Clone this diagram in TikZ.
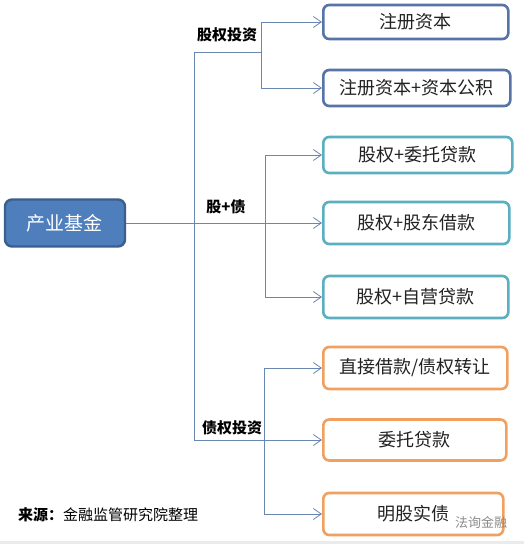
\documentclass[tikz,border=0pt]{standalone}
\usepackage{fontspec}
\setmainfont{Noto Sans CJK SC}
\newfontfamily\cjk{Noto Sans CJK SC}
\usetikzlibrary{arrows.meta}
\definecolor{lineC}{HTML}{6A87B0}
\definecolor{blueB}{HTML}{5674A6}
\definecolor{tealB}{HTML}{5AAFC0}
\definecolor{orangeB}{HTML}{F0A060}
\definecolor{mainF}{HTML}{4F7EBD}
\definecolor{mainB}{HTML}{3A5F8F}
\definecolor{txtC}{HTML}{222222}
\tikzset{
  box/.style={draw, line width=2.6pt, rounded corners=6pt, fill=white, anchor=west, inner sep=0pt,
     font=\fontsize{18}{20}\selectfont, text=txtC},
  bluebox/.style={box, draw=blueB},
  tealbox/.style={box, draw=tealB},
  orangebox/.style={box, draw=orangeB},
  conn/.style={draw=lineC, line width=1pt},
  arr/.style={conn, -{Straight Barb[length=8pt,width=11pt,line width=0.8pt]}},
  lab/.style={font=\fontsize{15}{17}\selectfont\bfseries, text=black, inner sep=0pt},
}
\begin{document}
\begin{tikzpicture}[x=1pt,y=-1pt]
\fill[white] (0,0) rectangle (524,544);
\useasboundingbox (0,0) rectangle (524,544);
\fill[black!8] (0,541) rectangle (524,544);

\node[draw=mainB, fill=mainF, line width=2.4pt, rounded corners=7pt, minimum width=120pt, minimum height=47pt,
  inner sep=0pt, text=white, font=\fontsize{19}{21}\selectfont] (main) at (65,223) {产业基金};

\node[bluebox, minimum width=185pt, minimum height=34pt] (b1) at (322,22) {注册资本};
\node[bluebox, minimum width=187pt, minimum height=36pt] (b2) at (322,88) {注册资本+资本公积};
\node[tealbox, minimum width=189pt, minimum height=36pt] (b3) at (322,155) {股权+委托贷款};
\node[tealbox, minimum width=186pt, minimum height=42pt] (b4) at (322,223) {股权+股东借款};
\node[tealbox, minimum width=185pt, minimum height=42pt] (b5) at (322,297) {股权+自营贷款};
\node[orangebox, minimum width=184pt, minimum height=42pt] (b6) at (322,368) {直接借款/债权转让};
\node[orangebox, minimum width=183pt, minimum height=41pt] (b7) at (322,440) {委托贷款};
\node[orangebox, minimum width=180pt, minimum height=42pt] (b8) at (322,514) {明股实债};

\coordinate (t1) at (194,52);
\coordinate (t2) at (194,440);
\coordinate (j1) at (261,52);
\coordinate (j2) at (265,223);
\coordinate (j3) at (264,440);

% trunk
\draw[conn] (t1) -- (t2);
\draw[conn] (t1) -- (j1);
\draw[conn] (j1 |- b1.west) -- (j1 |- b2.west);
\draw[arr] (j1 |- b1.west) -- (b1.west);
\draw[arr] (j1 |- b2.west) -- (b2.west);

\draw[arr] (main.east) -- (b4.west);
\draw[conn] (j2 |- b3.west) -- (j2 |- b5.west);
\draw[arr] (j2 |- b3.west) -- (b3.west);
\draw[arr] (j2 |- b5.west) -- (b5.west);

\draw[arr] (t2) -- (b7.west);
\draw[conn] (j3 |- b6.west) -- (j3 |- b8.west);
\draw[arr] (j3 |- b6.west) -- (b6.west);
\draw[arr] (j3 |- b8.west) -- (b8.west);

\node[lab] (l1) at (227,35) {股权投资};
\node[lab] (l2) at (226,207) {股+债};
\node[lab] (l3) at (232,428) {债权投资};

\node[anchor=west, inner sep=0pt, font=\fontsize{15}{17}\selectfont, text=black] (src) at (18,515)
  {\textbf{来源：}金融监管研究院整理};
\node[anchor=west, inner sep=0pt, font=\fontsize{13}{15}\selectfont, text=black!45] (wm) at (455,522) {法询金融};
\end{tikzpicture}
\end{document}
